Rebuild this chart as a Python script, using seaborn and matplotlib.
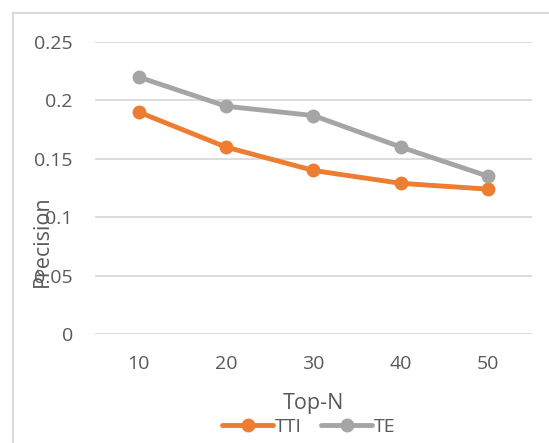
import matplotlib
matplotlib.use("Agg")
import matplotlib.pyplot as plt
import pandas as pd
import seaborn as sns
from matplotlib.lines import Line2D

top_n = ["10", "20", "30", "40", "50"]
tti = [0.190, 0.160, 0.140, 0.129, 0.124]
te = [0.220, 0.195, 0.187, 0.160, 0.135]
series_names = ["TTI", "TE"]
colors = {"TTI": "#ED7D31", "TE": "#A5A5A5"}

sns.set_style("white")
plt.rcParams['font.family'] = ['Open Sans', 'DejaVu Sans']

df = pd.DataFrame({"Top-N": top_n * 2,
                   "Precision": tti + te,
                   "series": ["TTI"] * len(top_n) + ["TE"] * len(top_n)})

fig = plt.figure(figsize=(5.49, 4.43), dpi=100)
ax = fig.add_axes([95 / 549, 1 - 334 / 443, 437 / 549, 292 / 443])

sns.lineplot(data=df, x="Top-N", y="Precision", hue="series", palette=colors,
             hue_order=series_names, marker="o", markersize=10, markeredgewidth=0,
             linewidth=3.5, sort=False, ax=ax, legend=False)

ax.set_ylim(0, 0.25)
ax.set_yticks([0, 0.05, 0.1, 0.15, 0.2, 0.25])
ax.set_yticklabels(["0", "0.05", "0.1", "0.15", "0.2", "0.25"])
ax.set_xlim(-0.5, 4.5)
ax.grid(axis="y", color="#D9D9D9", linewidth=1.3)
ax.set_axisbelow(True)
for s in ax.spines.values():
    s.set_visible(False)
ax.tick_params(axis="y", length=0, pad=16, labelsize=14, labelcolor="#595959")
ax.tick_params(axis="x", length=0, pad=15, labelsize=14, labelcolor="#595959")
ax.set_ylabel("")
ax.set_xlabel("")

fig.text(42 / 549, 1 - 241 / 443, "Precision", rotation=90, ha="center", va="center",
         fontsize=15.5, color="#595959")
fig.text(313 / 549, 1 - 404 / 443, "Top-N", ha="center", va="center",
         fontsize=15.5, color="#595959")

handles = [Line2D([], [], color=colors[n], marker="o", markersize=10,
                  markeredgewidth=0, linewidth=3.5) for n in series_names]
fig.legend(handles, series_names, loc="center", bbox_to_anchor=(309 / 549, 1 - 427 / 443),
           ncol=2, frameon=False, fontsize=14, labelcolor="#595959",
           handlelength=2.6, handletextpad=0.1, columnspacing=1.0)

# chart area border
fig.add_artist(Line2D([13 / 549, 13 / 549], [0, 1 - 13 / 443], color="#D9D9D9", linewidth=1.5))
fig.add_artist(Line2D([13 / 549, 1], [1 - 13 / 443, 1 - 13 / 443], color="#D9D9D9", linewidth=1.5))

fig.savefig("out.png", dpi=100)
